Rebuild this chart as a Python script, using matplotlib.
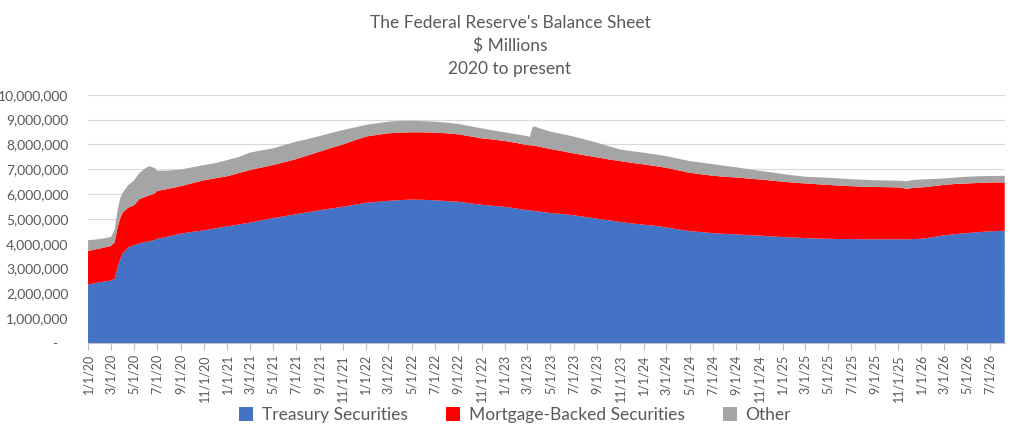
import matplotlib
matplotlib.use("Agg")
import matplotlib.pyplot as plt
from matplotlib.ticker import FuncFormatter
from matplotlib.patches import Patch
import numpy as np
import pandas as pd

# weekly-ish H.4.1 style readings, values in $ trillions (converted to $ millions below)
dates = ["2020-01-01", "2020-02-01", "2020-03-01", "2020-03-11", "2020-03-18", "2020-03-25",
         "2020-04-01", "2020-04-15", "2020-05-01", "2020-05-15", "2020-06-01", "2020-06-10",
         "2020-06-24", "2020-07-01", "2020-08-01", "2020-09-01", "2020-10-01", "2020-11-01",
         "2020-12-01", "2021-01-01", "2021-02-01", "2021-03-01", "2021-04-01", "2021-05-01",
         "2021-06-01", "2021-07-01", "2021-08-01", "2021-09-01", "2021-10-01", "2021-11-01",
         "2021-12-01", "2022-01-01", "2022-02-01", "2022-03-01", "2022-04-01", "2022-05-01",
         "2022-06-01", "2022-07-01", "2022-08-01", "2022-09-01", "2022-10-01", "2022-11-01",
         "2022-12-01", "2023-01-01", "2023-02-01", "2023-03-01", "2023-03-08", "2023-03-15",
         "2023-03-22", "2023-04-01", "2023-05-01", "2023-06-01", "2023-07-01", "2023-08-01",
         "2023-09-01", "2023-10-01", "2023-11-01", "2023-12-01", "2024-01-01", "2024-02-01",
         "2024-03-01", "2024-04-01", "2024-05-01", "2024-06-01", "2024-07-01", "2024-08-01",
         "2024-09-01", "2024-10-01", "2024-11-01", "2024-12-01", "2025-01-01", "2025-02-01",
         "2025-03-01", "2025-04-01", "2025-05-01", "2025-06-01", "2025-07-01", "2025-08-01",
         "2025-09-01", "2025-10-01", "2025-11-01", "2025-11-26", "2025-12-10", "2026-01-01",
         "2026-02-01", "2026-03-01", "2026-04-01", "2026-05-01", "2026-06-01", "2026-07-01",
         "2026-08-08"]

treasury = [2.36, 2.45, 2.52, 2.60, 3.00, 3.35, 3.60, 3.85, 3.94, 4.02, 4.07, 4.10,
            4.15, 4.20, 4.30, 4.41, 4.48, 4.54, 4.62, 4.70, 4.78, 4.85, 4.94, 5.03,
            5.11, 5.19, 5.27, 5.35, 5.42, 5.49, 5.57, 5.65, 5.69, 5.73, 5.76, 5.78,
            5.77, 5.75, 5.72, 5.69, 5.63, 5.57, 5.53, 5.49, 5.42, 5.35, 5.34, 5.33,
            5.32, 5.30, 5.24, 5.20, 5.15, 5.08, 5.01, 4.95, 4.88, 4.82, 4.77, 4.72,
            4.66, 4.58, 4.51, 4.47, 4.43, 4.40, 4.38, 4.35, 4.33, 4.30, 4.27, 4.25,
            4.23, 4.21, 4.20, 4.19, 4.19, 4.18, 4.18, 4.18, 4.18, 4.18, 4.19, 4.20,
            4.27, 4.34, 4.39, 4.43, 4.47, 4.50, 4.53]

mbs = [1.35, 1.36, 1.39, 1.45, 1.60, 1.65, 1.65, 1.60, 1.61, 1.78, 1.83, 1.85,
       1.87, 1.93, 1.92, 1.91, 1.96, 2.02, 2.02, 2.02, 2.07, 2.12, 2.13, 2.14,
       2.18, 2.22, 2.29, 2.36, 2.44, 2.51, 2.59, 2.67, 2.70, 2.72, 2.72, 2.71,
       2.72, 2.73, 2.73, 2.72, 2.70, 2.68, 2.67, 2.65, 2.64, 2.63, 2.63, 2.63,
       2.63, 2.61, 2.58, 2.53, 2.49, 2.48, 2.47, 2.45, 2.45, 2.44, 2.43, 2.41,
       2.40, 2.38, 2.35, 2.33, 2.31, 2.30, 2.29, 2.28, 2.26, 2.25, 2.23, 2.21,
       2.20, 2.19, 2.17, 2.15, 2.13, 2.12, 2.11, 2.10, 2.09, 2.03, 2.07, 2.07,
       2.05, 2.03, 2.02, 2.00, 1.98, 1.97, 1.94]

other = [0.43, 0.38, 0.36, 0.50, 0.70, 0.80, 0.80, 0.90, 1.00, 1.05, 1.15, 1.18,
         1.03, 0.81, 0.73, 0.67, 0.64, 0.61, 0.61, 0.65, 0.65, 0.70, 0.69, 0.67,
         0.69, 0.70, 0.66, 0.63, 0.60, 0.58, 0.52, 0.47, 0.47, 0.47, 0.47, 0.47,
         0.45, 0.44, 0.43, 0.42, 0.41, 0.40, 0.37, 0.35, 0.35, 0.36, 0.33, 0.74,
         0.77, 0.75, 0.70, 0.69, 0.68, 0.64, 0.59, 0.53, 0.47, 0.47, 0.47, 0.47,
         0.47, 0.47, 0.47, 0.47, 0.47, 0.44, 0.41, 0.38, 0.35, 0.33, 0.31, 0.29,
         0.27, 0.28, 0.29, 0.29, 0.28, 0.28, 0.27, 0.27, 0.27, 0.31, 0.31, 0.32,
         0.29, 0.26, 0.26, 0.27, 0.27, 0.26, 0.27]

labels = ["Treasury Securities", "Mortgage-Backed Securities", "Other"]
colors = ["#4472C4", "#FF0000", "#A5A5A5"]

x = pd.to_datetime(dates)
to_millions = 1e6
series = [np.array(s) * to_millions for s in (treasury, mbs, other)]

plt.rcParams["font.family"] = ["Lato", "DejaVu Sans"]
txt = "#595959"

fig = plt.figure(figsize=(10.2, 4.37), dpi=100)
ax = fig.add_axes([0.0863, 0.215, 0.8987, 0.568])

ax.stackplot(x, *series, colors=colors, labels=labels, linewidth=0)

ax.set_xlim(x[0], x[-1])
ax.set_ylim(0, 10_000_000)
ax.set_yticks(np.arange(0, 10_000_001, 1_000_000))
ax.yaxis.set_major_formatter(FuncFormatter(lambda v, p: "-   " if v == 0 else f"{int(v):,}"))
ax.grid(axis="y", color="#D9D9D9", linewidth=0.8)
ax.set_axisbelow(True)

ticks = pd.date_range("2020-01-01", "2026-07-01", freq="2MS")
ax.set_xticks(ticks)
ax.set_xticklabels([f"{d.month}/{d.day}/{d.year % 100}" for d in ticks], rotation=90)

for s in ["top", "right", "left"]:
    ax.spines[s].set_visible(False)
ax.spines["bottom"].set_color("#BFBFBF")
ax.tick_params(axis="y", length=0, labelsize=10, labelcolor=txt, pad=14)
ax.tick_params(axis="x", length=5, color="#BFBFBF", labelsize=9, labelcolor=txt, pad=3)

fig.text(0.5, 0.947, "The Federal Reserve's Balance Sheet", ha="center", va="center",
         fontsize=12.5, color=txt)
fig.text(0.5, 0.895, "$ Millions", ha="center", va="center", fontsize=12.5, color=txt)
fig.text(0.5, 0.842, "2020 to present", ha="center", va="center", fontsize=12.5, color=txt)

handles = [Patch(facecolor=c, edgecolor="none") for c in colors]
fig.legend(handles, labels, loc="center", bbox_to_anchor=(0.505, 0.05), ncol=3,
           frameon=False, fontsize=12.5, labelcolor=txt, handlelength=0.8,
           handleheight=0.8, handletextpad=0.5, columnspacing=2.2)

fig.savefig("out.png", dpi=100)
